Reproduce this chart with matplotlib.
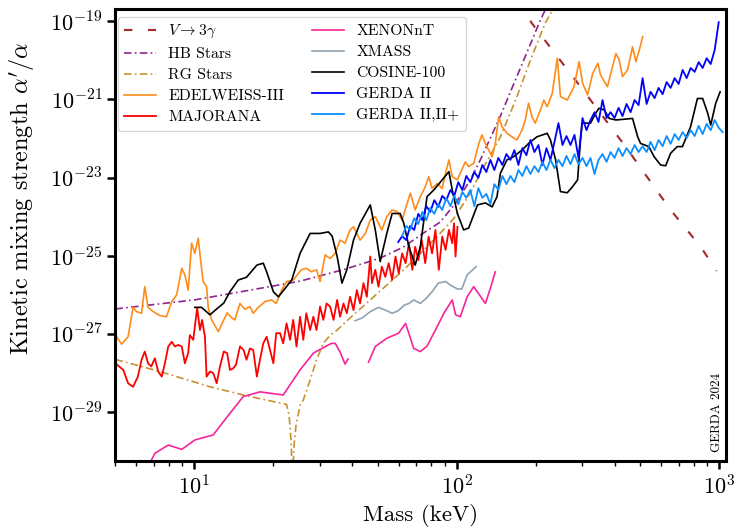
import numpy as np
import matplotlib
matplotlib.use("Agg")
import matplotlib.pyplot as plt

plt.rcParams['font.family'] = 'serif'
plt.rcParams['font.serif'] = ['cmr10']
plt.rcParams['mathtext.fontset'] = 'cm'
plt.rcParams['axes.formatter.use_mathtext'] = True

# masses in keV, strengths as log10(alpha'/alpha)
v3g_m = [171.7, 193.3, 296.1, 439.5, 652.9, 850, 977]
v3g_e = [-18.46, -19.06, -20.68, -22.21, -23.83, -24.77, -25.39]

hb_m = [5.0, 7.39, 10.0, 16.28, 25.27, 36.8, 51.05, 62.5, 75.8, 86.5, 99.6, 112.6,
        122.9, 134.3, 146.6, 160.1, 174.8, 190.8, 208.4, 223.6]
hb_e = [-26.36, -26.23, -26.13, -25.88, -25.65, -25.36, -25.06, -24.78, -24.39, -24.14,
        -23.63, -23.06, -22.55, -21.99, -21.43, -20.81, -20.20, -19.59, -18.97, -18.54]

rg_m = [5.0, 7.39, 11.46, 15.35, 19.42, 22.45, 22.95, 23.35, 23.66, 23.98, 24.4, 25.27,
        26.0, 27.6, 29.2, 31.0, 32.9, 35.0, 40.4, 46.8, 54.1, 62.8, 72.6, 84.2, 97.6,
        112.6, 122.9, 134.3, 146.6, 167.6, 190.8, 218, 238]
rg_e = [-27.65, -27.96, -28.35, -28.56, -28.71, -28.80, -29.07, -29.71, -30.73, -29.84,
        -29.33, -28.82, -28.69, -28.18, -27.66, -27.24, -27.03, -26.90, -26.51, -26.13,
        -25.75, -25.36, -24.94, -24.51, -24.04, -23.40, -22.89, -22.43, -21.96, -21.02,
        -20.00, -19.03, -18.59]

edelweiss_m = [5.01, 5.28, 5.59, 5.84, 6.02, 6.29, 6.47, 6.66, 6.97, 7.39,
               7.83, 8.20, 8.56, 8.95, 9.20, 9.47, 9.76, 10.04, 10.34, 10.56,
               10.8, 11.13, 11.30, 11.64, 12.34, 12.94, 13.33, 13.94, 14.27, 14.92,
               15.58, 16.28, 16.76, 17.53, 18.6, 19.68, 20.5, 21.5, 22.45, 23.8,
               25.55, 26.7, 27.9, 29.2, 30.13, 31.5, 32.9, 34.4, 35.9, 37.5,
               39.2, 40.4, 41.6, 42.8, 44.8, 46.8, 48.9, 50.3, 51.8, 54.1,
               56.7, 59.2, 61.9, 64.7, 66.5, 69.4, 72.6, 75.8, 78.1, 80.5,
               84.2, 88.0, 90.6, 93.3, 96.1, 100.5, 103.1, 107.8, 110.9, 116.0,
               121.3, 124.7, 128.5, 132.3, 136.3, 140.2, 144.4, 148.7, 155.3, 162.2,
               169.5, 177.1, 182.4, 187.7, 193.3, 199.0, 208.4, 214.6, 221.0, 231,
               241.5, 248.3, 263.5, 279.5, 292.5, 301.5, 315, 329.5, 345, 352.9,
               375, 392, 404, 416, 428, 447.5, 467.5, 481.5, 496, 511]
edelweiss_e = [-27.03, -27.26, -27.07, -26.32, -26.43, -26.47, -25.79, -26.32, -26.43, -26.53,
               -26.56, -26.17, -26.00, -25.32, -25.49, -25.88, -24.68, -24.94, -24.55, -25.11,
               -25.66, -25.79, -26.34, -26.64, -26.94, -26.64, -26.46, -26.60, -26.64, -26.22,
               -26.37, -26.30, -26.47, -26.32, -26.17, -26.13, -26.22, -25.88, -25.66, -25.62,
               -25.36, -25.32, -25.41, -25.36, -25.66, -24.98, -25.07, -24.94, -24.60, -24.68,
               -24.34, -24.26, -24.43, -24.60, -24.43, -24.09, -24.00, -24.17, -24.34, -24.00,
               -23.83, -23.87, -24.09, -23.66, -23.40, -23.83, -23.49, -23.24, -22.98, -23.28,
               -23.15, -23.28, -22.89, -22.55, -22.98, -23.06, -22.89, -22.60, -22.72, -22.64,
               -22.13, -21.91, -22.13, -22.30, -22.47, -22.13, -21.45, -21.70, -21.87, -21.96,
               -22.04, -21.79, -21.53, -21.10, -21.45, -21.61, -21.27, -21.02, -21.19, -20.85,
               -19.95, -20.93, -21.02, -20.68, -20.04, -20.59, -20.89, -20.34, -20.08, -20.38,
               -20.68, -20.17, -19.83, -20.00, -20.42, -20.25, -19.66, -20.04, -19.74, -19.40]

majorana_m = [5.0, 5.36, 5.59, 5.84, 6.09, 6.29, 6.47, 6.66, 6.85, 7.07,
              7.28, 7.51, 7.72, 7.95, 8.20, 8.43, 8.68, 8.95, 9.20, 9.47,
              9.61, 9.90, 10.04, 10.25, 10.50, 10.7, 10.97, 11.13, 11.46, 11.8,
              12.16, 12.51, 12.94, 13.33, 13.66, 14.04, 14.4, 14.92, 15.4, 15.8,
              16.28, 16.76, 17.3, 17.78, 18.3, 18.85, 19.42, 20.0, 20.5, 21.2,
              21.8, 22.45, 23.15, 23.8, 24.5, 25.27, 26.0, 26.7, 27.6, 28.4,
              29.2, 30.13, 31.0, 31.9, 32.9, 33.9, 35.0, 35.9, 37.0, 38.1,
              39.2, 40.4, 41.6, 42.8, 44.1, 45.4, 46.8, 47.5, 48.9, 50.3,
              51.8, 53.4, 55.0, 56.7, 58.4, 60.1, 61.9, 63.8, 65.7, 67.7,
              69.4, 71.4, 73.5, 75.8, 78.1, 80.5, 82.9, 85.4, 88.0, 90.6,
              93.3, 96.1, 97.6, 98.9, 100.6]
majorana_e = [-27.75, -27.92, -28.26, -28.35, -28.09, -27.66, -27.45, -27.75, -27.83, -27.62,
              -27.96, -28.09, -27.75, -27.32, -27.20, -27.32, -27.28, -27.32, -27.75, -27.49,
              -27.03, -27.15, -26.81, -26.34, -26.90, -26.64, -27.07, -28.09, -27.96, -28.00,
              -28.26, -27.84, -27.45, -27.49, -27.92, -27.88, -27.79, -27.32, -27.41, -27.66,
              -27.37, -27.41, -28.09, -27.66, -27.24, -27.07, -27.41, -27.75, -26.98, -26.98,
              -27.24, -26.73, -27.15, -26.64, -27.32, -26.56, -27.15, -26.47, -26.90, -26.56,
              -26.90, -26.30, -26.64, -26.22, -26.30, -26.64, -26.13, -26.56, -26.22, -26.47,
              -26.05, -26.39, -25.88, -26.22, -25.70, -26.05, -25.02, -25.70, -25.36, -25.79,
              -25.28, -25.54, -25.19, -25.62, -25.02, -25.45, -24.94, -25.19, -24.68, -25.36,
              -24.77, -25.11, -24.60, -25.19, -24.51, -24.94, -24.34, -25.36, -24.51, -24.85,
              -24.34, -24.68, -24.17, -25.02, -24.26]

xenon1_m = [6.77, 7.07, 7.95, 8.95, 10.04, 11.8, 13.4, 15.35, 17.78, 21.8, 25.27, 28.4,
            31.0, 33.3, 34.4, 35.9, 37.5, 38.5]
xenon1_e = [-30.30, -30.05, -29.84, -29.95, -29.71, -29.58, -29.10, -28.60, -28.48, -28.56,
            -27.92, -27.49, -27.35, -27.24, -27.24, -27.46, -27.77, -27.64]
xenon2_m = [46.1, 48.9, 54.1, 60.0, 63.8, 66.0, 68.5, 72.6, 77.0, 82.9, 89.3, 96.1, 98.9,
            103.1, 109.5, 116.0, 122.0, 128.5, 134.3, 140.2]
xenon2_e = [-27.72, -27.32, -27.11, -26.98, -26.73, -27.03, -27.37, -27.45, -27.31, -26.90,
            -26.47, -26.13, -26.51, -26.56, -26.05, -25.79, -26.00, -26.22, -25.83, -25.41]

xmass_m = [41.0, 43.6, 46.8, 50.3, 53.4, 56.7, 59.7, 63.2, 65.7, 68.5, 72.6, 76.7, 80.5,
           85.0, 90.6, 94.5, 100.5, 104.5, 109.5, 114.9, 118.4]
xmass_e = [-26.66, -26.59, -26.43, -26.32, -26.39, -26.47, -26.41, -26.26, -26.22, -26.13,
           -26.22, -26.08, -25.92, -25.70, -25.66, -25.75, -25.85, -25.85, -25.49, -25.36,
           -25.28]

cosine_m = [10.04, 10.65, 11.46, 12.16, 12.94, 13.66, 14.7, 15.8, 17.3, 18.3,
            18.85, 20.0, 20.9, 23.5, 25.27, 27.6, 30.13, 32.4, 33.5, 35.0,
            36.5, 38.1, 40.4, 42.8, 46.8, 48.9, 51.05, 54.1, 56.7, 60.85,
            62.8, 65.7, 69.4, 72.6, 77.0, 81.7, 88.0, 93.3, 96.1, 100.5,
            106.2, 111.0, 119.9, 128.5, 136.3, 142.3, 146.6, 155.3, 164.3, 177.1,
            187.7, 202.0, 221.0, 227.5, 238, 248.3, 263.5, 275.7, 288.6, 296.1,
            300.6, 323.2, 338, 348, 364, 381, 404, 467.5, 489, 501.7,
            539, 565, 598, 625, 653, 692, 724, 778, 826, 865,
            904, 928, 970, 1008]
cosine_e = [-26.32, -26.32, -26.51, -26.36, -26.21, -25.92, -25.62, -25.55, -25.24, -25.19,
            -25.41, -25.92, -26.05, -25.62, -24.94, -24.43, -24.43, -24.39, -24.50, -25.02,
            -25.70, -25.36, -24.60, -24.17, -23.70, -24.34, -25.15, -24.43, -23.92, -23.92,
            -24.17, -24.77, -25.24, -24.77, -23.49, -23.32, -23.06, -22.85, -23.32, -23.92,
            -24.34, -24.29, -23.70, -23.65, -23.75, -23.49, -22.89, -22.55, -22.47, -22.30,
            -22.13, -21.96, -21.87, -22.04, -22.55, -23.36, -23.39, -23.24, -23.06, -22.04,
            -21.61, -21.61, -21.36, -21.23, -21.27, -21.49, -21.53, -21.49, -21.96, -22.13,
            -22.21, -22.47, -22.68, -22.70, -22.38, -22.21, -22.21, -21.70, -20.98, -20.98,
            -21.36, -21.66, -21.10, -20.81]

gerda_m = [59.8, 61.9, 64.2, 66.4, 68.8, 71.3, 73.9, 76.5, 79.2, 82.1,
           85.0, 88.0, 91.2, 94.5, 97.8, 101.3, 105.0, 108.7, 112.6, 116.6,
           120.8, 125.1, 129.6, 134.3, 139.0, 144.0, 149.2, 154.5, 160.1, 165.8,
           171.7, 177.8, 184.2, 190.8, 197.6, 204.7, 212.0, 219.6, 227.5, 235.6,
           244.0, 252.8, 261.8, 271.2, 280.8, 290.9, 301.3, 312.1, 323.2, 334.8,
           346.8, 359.2, 372.1, 385.4, 399.1, 413.4, 428.2, 443.5, 459.4, 475.9,
           492.9, 510.5, 528.8, 547.6, 567.3, 587.6, 608.6, 630.4, 652.9, 676.2,
           700.4, 725.5, 751.4, 778.3, 806.2, 835.0, 864.9, 895.8, 927.9, 961.0,
           995.6, 1031]
# GERDA II uses gerda_m[0:81], GERDA II,II+ uses gerda_m[1:82]
gerda2_e = [-24.65, -24.50, -24.60, -24.24, -24.34, -23.93, -24.09, -23.73, -23.88, -23.58,
            -23.75, -23.47, -23.58, -23.32, -23.47, -23.12, -23.32, -22.96, -23.12, -22.86,
            -23.01, -22.68, -22.86, -22.55, -22.81, -22.50, -22.68, -22.40, -22.55, -22.30,
            -22.68, -22.25, -22.43, -22.04, -22.35, -22.17, -22.68, -22.25, -22.55, -22.09,
            -21.61, -22.17, -21.94, -22.17, -21.91, -22.50, -21.48, -21.79, -21.53, -21.33,
            -21.58, -21.02, -21.48, -21.33, -21.48, -21.22, -21.43, -21.12, -21.33, -21.02,
            -21.15, -20.46, -21.12, -20.81, -20.97, -20.71, -20.87, -20.56, -20.71, -20.46,
            -20.61, -20.25, -20.46, -20.20, -20.30, -20.05, -20.20, -19.95, -20.10, -19.74,
            -19.03]
gerda22_e = [-24.50, -24.24, -24.34, -24.04, -24.19, -23.88, -24.09, -23.78, -23.93, -23.68,
             -23.83, -23.52, -23.73, -23.47, -23.68, -23.37, -23.52, -23.32, -23.73, -23.27,
             -23.52, -23.42, -23.68, -23.17, -23.32, -22.96, -23.17, -22.96, -23.12, -22.81,
             -22.96, -22.71, -22.91, -22.71, -22.86, -22.60, -22.81, -22.55, -22.76, -22.55,
             -22.71, -22.45, -22.66, -22.40, -22.66, -22.50, -22.71, -22.50, -22.91, -22.55,
             -22.40, -22.60, -22.35, -22.50, -22.25, -22.45, -22.25, -22.40, -22.17, -22.35,
             -22.20, -22.35, -22.09, -22.30, -22.04, -22.20, -21.94, -22.14, -21.89, -22.04,
             -21.84, -21.99, -21.79, -21.94, -21.68, -21.89, -21.63, -21.79, -21.53, -21.73,
             -21.84]

ytick_exp = [-29, -27, -25, -23, -21, -19]


def pw(e):
    return 10.0 ** np.array(e)


fig = plt.figure(figsize=(7.35, 5.32), dpi=100)
ax = fig.add_axes([0.157, 0.134, 0.831, 0.850])

lw = 1.2
ax.plot(v3g_m, pw(v3g_e), color='#a52a2a', lw=1.5, dashes=(4, 7.5), label=r'$V \to 3\gamma$')
ax.plot(hb_m, pw(hb_e), color='#8e248e', lw=lw, dashes=(4.5, 2, 1, 2), label='HB Stars')
ax.plot(rg_m, pw(rg_e), color='#c8902e', lw=lw, dashes=(4.5, 2, 1, 2), label='RG Stars')
ax.plot(edelweiss_m, pw(edelweiss_e), color='#ff8c1a', lw=lw, label='EDELWEISS-III')
ax.plot(majorana_m, pw(majorana_e), color='#ff0000', lw=1.3, label='MAJORANA')
ax.plot(xenon1_m, pw(xenon1_e), color='#f7249a', lw=lw, label='XENONnT')
ax.plot(xenon2_m, pw(xenon2_e), color='#f7249a', lw=lw)
ax.plot(xmass_m, pw(xmass_e), color='#8fa3b1', lw=lw, label='XMASS')
ax.plot(cosine_m, pw(cosine_e), color='black', lw=lw, label='COSINE-100')
ax.plot(gerda_m[:len(gerda2_e)], pw(gerda2_e), color='#0000ff', lw=1.3, label='GERDA II')
ax.plot(gerda_m[1:1 + len(gerda22_e)], pw(gerda22_e), color='#0a8fff', lw=1.3,
        label='GERDA II,II+')

ax.set_xscale('log')
ax.set_yscale('log')
ax.set_xlim(5, 1063)
ax.set_ylim(10 ** -30.24, 10 ** -18.68)

ax.set_yticks([10.0 ** k for k in ytick_exp])
ax.set_yticklabels([r'$10^{%d}$' % k for k in ytick_exp])
ax.yaxis.set_minor_locator(matplotlib.ticker.NullLocator())

ax.tick_params(which='major', direction='out', length=6, width=1.8, labelsize=16)
ax.tick_params(which='minor', direction='out', length=3.5, width=1.0)
for s in ax.spines.values():
    s.set_linewidth(2.2)

ax.set_xlabel('Mass (keV)', fontsize=16.5)
ax.set_ylabel(r"Kinetic mixing strength $\alpha'/\alpha$", fontsize=17.5)
ax.yaxis.set_label_coords(-0.128, 0.58)

ax.legend(loc='upper left', bbox_to_anchor=(0.004, 0.982), borderaxespad=0, ncol=2,
          fontsize=11.3, handlelength=2.0, columnspacing=1.8, labelspacing=0.45,
          edgecolor='#cccccc', fancybox=True)

ax.text(0.985, 0.02, 'GERDA 2024', transform=ax.transAxes, rotation=90,
        ha='center', va='bottom', fontsize=9.5)

fig.savefig('out.png', dpi=100)
